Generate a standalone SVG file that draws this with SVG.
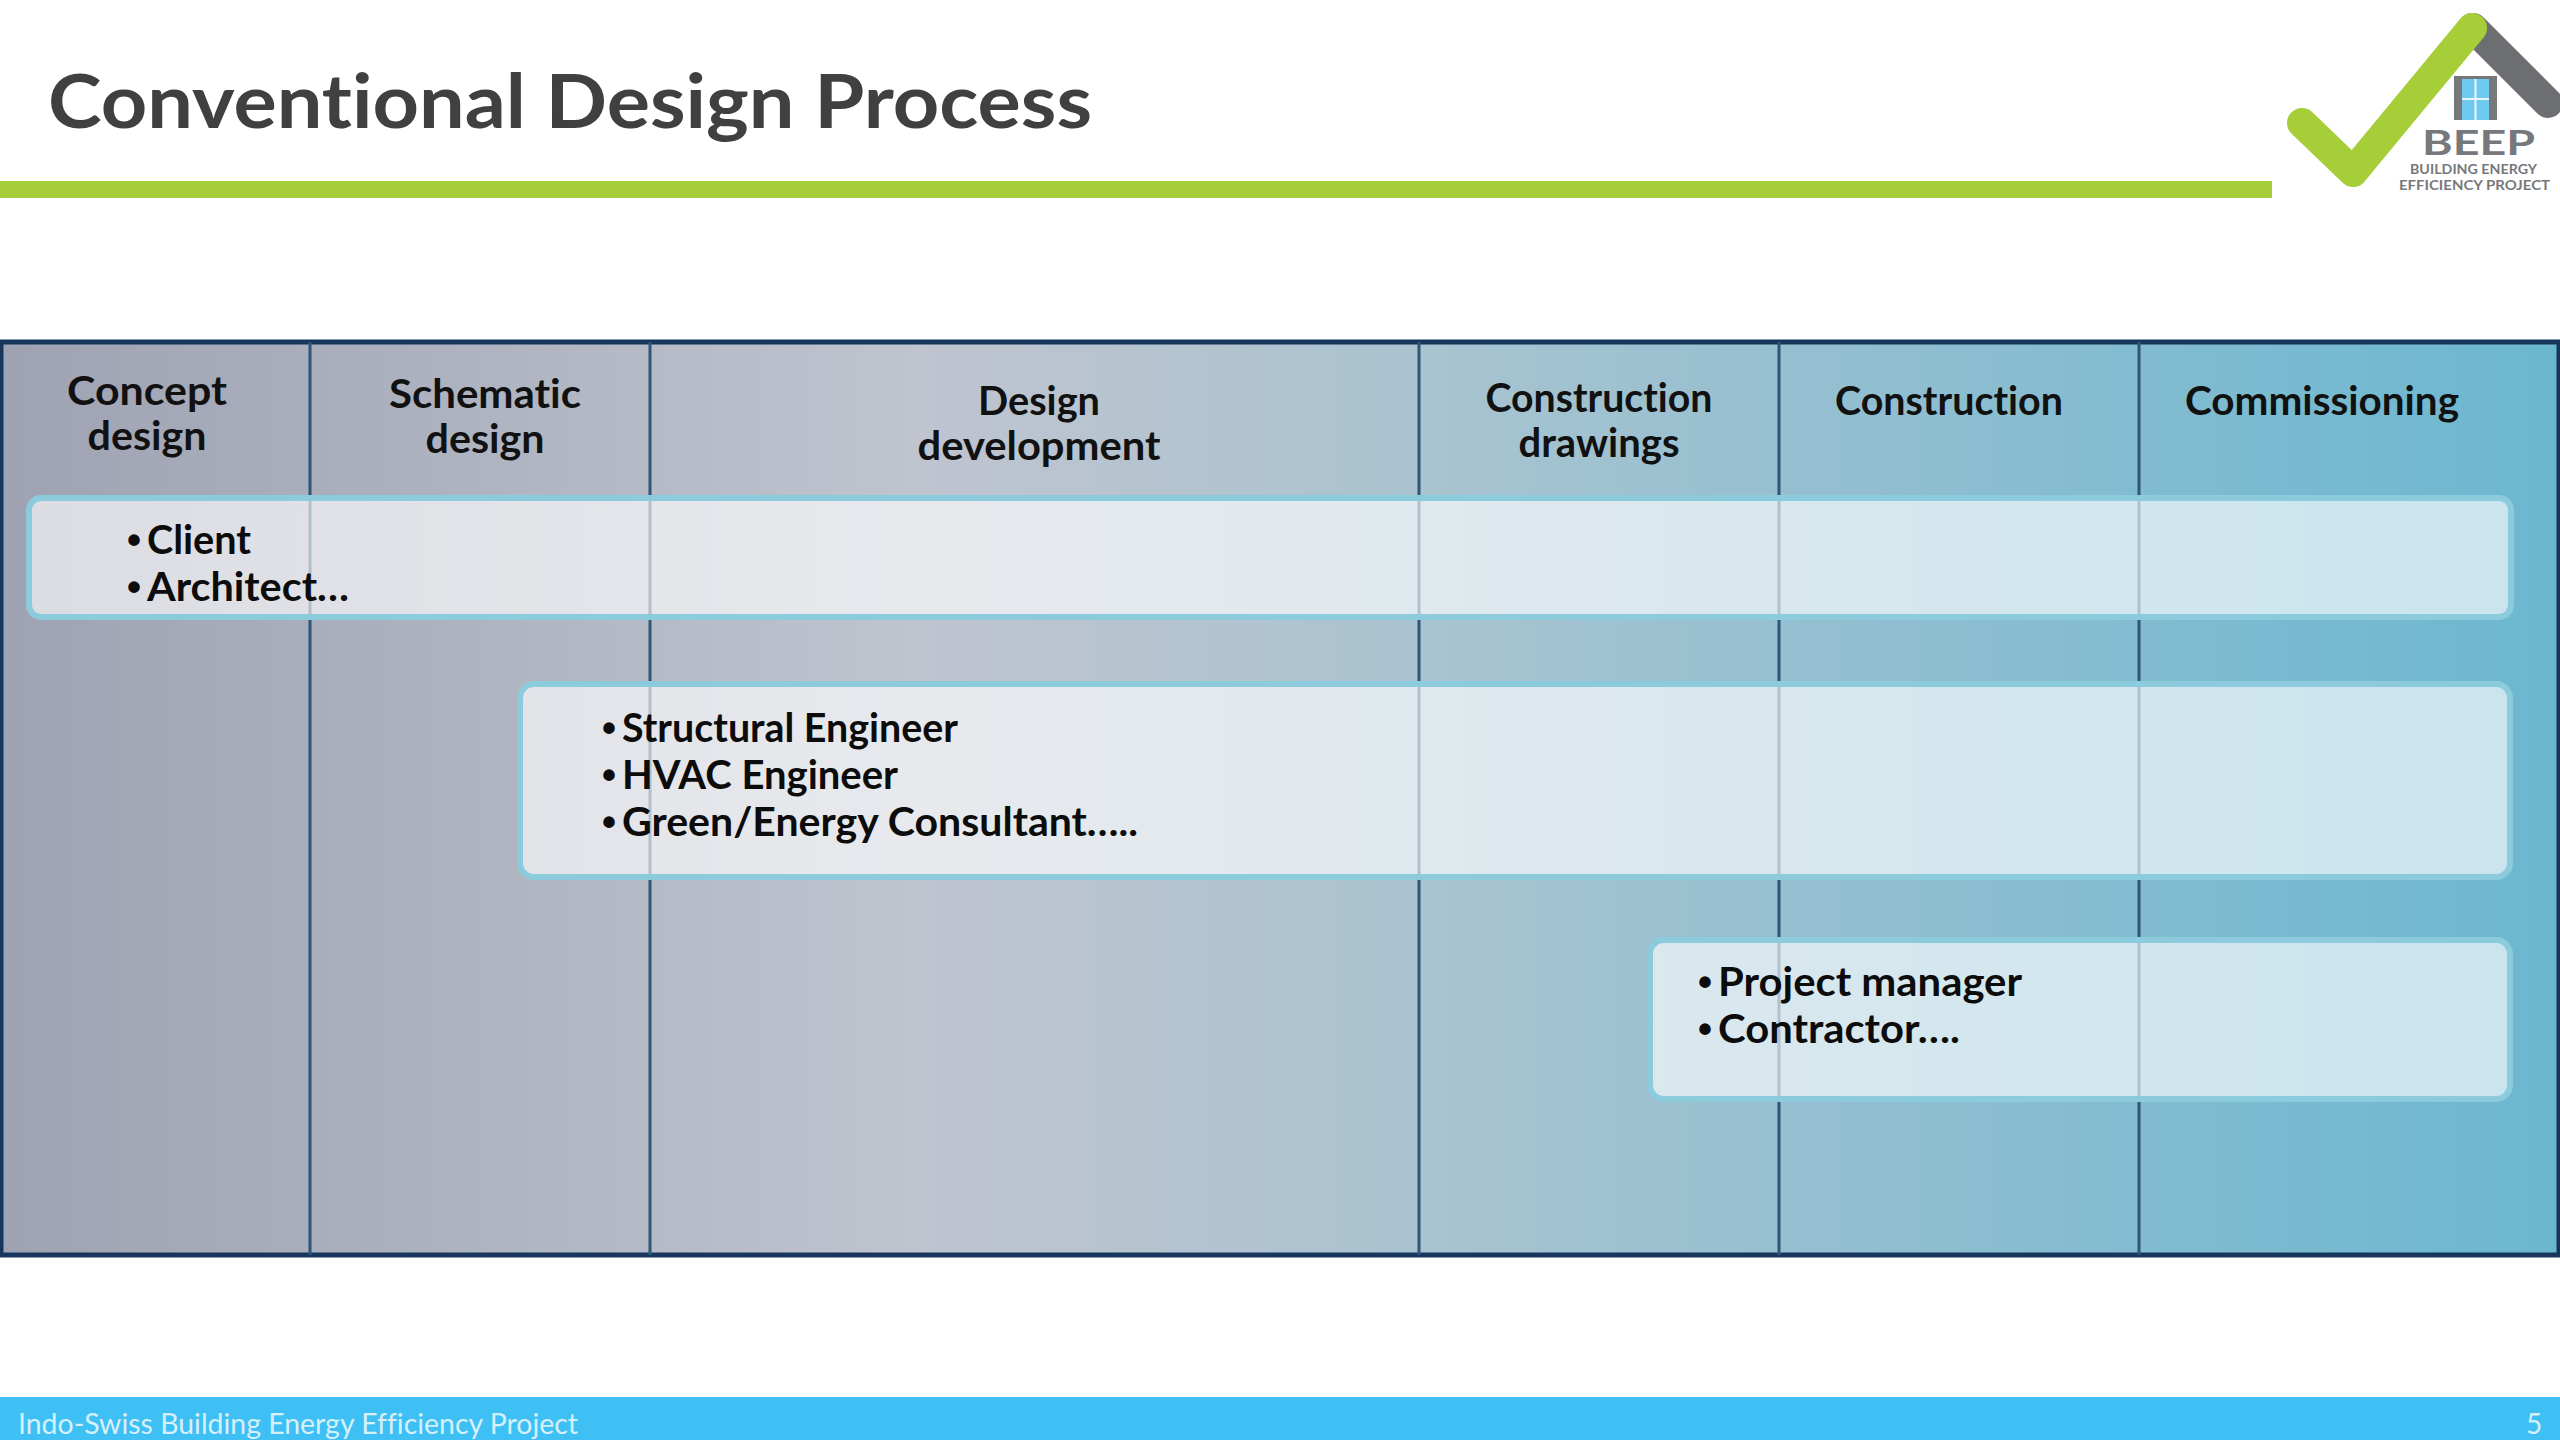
<svg xmlns="http://www.w3.org/2000/svg" width="2560" height="1440" viewBox="0 0 2560 1440">
<style>
text{font-family:"Lato","Liberation Sans",sans-serif;font-variant-ligatures:none}
.h{font-size:41px;font-weight:700;fill:#111;text-anchor:middle}
.b{font-size:41px;font-weight:700;fill:#0c0c0c}
.d{font-size:40px;font-weight:700;fill:#0c0c0c;font-family:"Liberation Sans",sans-serif}
.bar{stroke:#8ccbdc;stroke-width:6;fill:#fff;fill-opacity:.63}
.grid{stroke:#2f5577;stroke-width:3}
.lg{font-weight:700;fill:#77787b}
</style>
<defs><linearGradient id="g" x1="0" x2="1" y1="0" y2="0"><stop offset="0" stop-color="#9ea2b2"/><stop offset=".36" stop-color="#bfc4cf"/><stop offset=".56" stop-color="#a9c3d0"/><stop offset="1" stop-color="#6bb7d0"/></linearGradient></defs>
<rect width="2560" height="1440" fill="#fff"/>
<text id="title" x="48" y="128" font-size="74" font-weight="700" fill="#404040" textLength="1044" lengthAdjust="spacingAndGlyphs">Conventional Design Process</text>
<rect id="rule" x="0" y="181" width="2272" height="17" fill="#a6ce39"/>
<g id="logo">
<path d="M2473 28L2548 103" stroke="#6d6e71" stroke-width="30" stroke-linecap="round" fill="none"/>
<path d="M2302 123L2353 172L2472 28" stroke="#a6ce39" stroke-width="30" stroke-linecap="round" stroke-linejoin="round" fill="none"/>
<rect x="2454" y="76" width="43" height="44" fill="#77787b"/>
<rect x="2462" y="79" width="27" height="41" fill="#6fcaf0"/>
<path d="M2475.500 79V120M2462 99H2489" stroke="#e8f6fc" stroke-width="2"/>
<text class="lg" x="2422" y="155" font-size="34" textLength="113" lengthAdjust="spacingAndGlyphs">BEEP</text>
<text class="lg" x="2410" y="174" font-size="14" textLength="127" lengthAdjust="spacingAndGlyphs">BUILDING ENERGY</text>
<text class="lg" x="2399" y="190" font-size="14" textLength="151" lengthAdjust="spacingAndGlyphs">EFFICIENCY PROJECT</text>
</g>
<g id="table"><rect x="1" y="342" width="2558" height="913" fill="url(#g)" stroke="#17365d" stroke-width="5"/></g>
<g id="connectors">
<path class="grid" d="M310 342V1255M650 342V1255M1419 342V1255M1779 342V1255M2139 342V1255"/>
</g>
<g id="col-concept"><text class="h" x="147" y="405" textLength="160" lengthAdjust="spacingAndGlyphs">Concept</text><text class="h" x="147" y="450" textLength="119" lengthAdjust="spacingAndGlyphs">design</text></g>
<g id="col-schematic"><text class="h" x="485" y="408" textLength="192" lengthAdjust="spacingAndGlyphs">Schematic</text><text class="h" x="485" y="453" textLength="119" lengthAdjust="spacingAndGlyphs">design</text></g>
<g id="col-development"><text class="h" x="1039" y="415" textLength="122" lengthAdjust="spacingAndGlyphs">Design</text><text class="h" x="1039" y="460" textLength="243" lengthAdjust="spacingAndGlyphs">development</text></g>
<g id="col-drawings"><text class="h" x="1599" y="412" textLength="227" lengthAdjust="spacingAndGlyphs">Construction</text><text class="h" x="1599" y="457" textLength="161" lengthAdjust="spacingAndGlyphs">drawings</text></g>
<g id="col-construction"><text class="h" x="1949" y="415" textLength="228" lengthAdjust="spacingAndGlyphs">Construction</text></g>
<g id="col-commissioning"><text class="h" x="2322" y="415" textLength="274" lengthAdjust="spacingAndGlyphs">Commissioning</text></g>
<g id="bar-1"><rect class="bar" x="29" y="498" width="2482" height="119" rx="12"/>
<text class="d" x="127" y="554">•</text><text class="b" x="147" y="554" textLength="104" lengthAdjust="spacingAndGlyphs">Client</text>
<text class="d" x="127" y="601">•</text><text class="b" x="147" y="601" textLength="202" lengthAdjust="spacingAndGlyphs">Architect…</text></g>
<g id="bar-2"><rect class="bar" x="520" y="684" width="1990" height="193" rx="14"/>
<text class="d" x="602" y="742">•</text><text class="b" x="622" y="742" textLength="336" lengthAdjust="spacingAndGlyphs">Structural Engineer</text>
<text class="d" x="602" y="789">•</text><text class="b" x="622" y="789" textLength="276" lengthAdjust="spacingAndGlyphs">HVAC Engineer</text>
<text class="d" x="602" y="836">•</text><text class="b" x="622" y="836" textLength="516" lengthAdjust="spacingAndGlyphs">Green/Energy Consultant…..</text></g>
<g id="bar-3"><rect class="bar" x="1650" y="940" width="860" height="159" rx="14"/>
<text class="d" x="1698" y="996">•</text><text class="b" x="1718" y="996" textLength="304" lengthAdjust="spacingAndGlyphs">Project manager</text>
<text class="d" x="1698" y="1043">•</text><text class="b" x="1718" y="1043" textLength="242" lengthAdjust="spacingAndGlyphs">Contractor….</text></g>
<g id="footer"><rect x="0" y="1397" width="2560" height="43" fill="#3ec0f4"/>
<text x="18" y="1434" font-size="28" fill="#d5f0fb" textLength="560" lengthAdjust="spacingAndGlyphs">Indo-Swiss Building Energy Efficiency Project</text>
<text x="2526" y="1434" font-size="28" fill="#d5f0fb">5</text></g>
</svg>
